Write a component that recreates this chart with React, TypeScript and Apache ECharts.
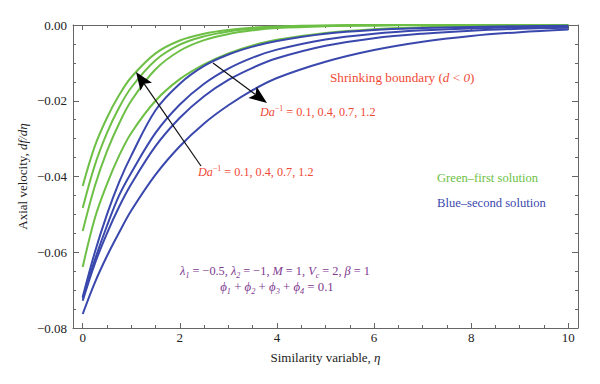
import React, { useEffect, useRef } from 'react';
import * as echarts from 'echarts';

// similarity variable eta
const eta = [0, 0.25, 0.5, 0.75, 1, 1.5, 2, 2.5, 3, 3.5, 4, 5, 6, 7, 8, 9, 10];

// first (green) solutions, Da^-1 = 1.2, 0.7, 0.4, 0.1
const green1 = [-0.0425, -0.032, -0.0245, -0.0185, -0.0138, -0.0075, -0.0041, -0.0023, -0.0013, -0.0007, -0.0004, -0.0001, 0, 0, 0, 0, 0];
const green2 = [-0.0483, -0.037, -0.0285, -0.0218, -0.0165, -0.0093, -0.0052, -0.003, -0.0017, -0.001, -0.0006, -0.0002, -0.0001, 0, 0, 0, 0];
const green3 = [-0.0544, -0.0425, -0.0333, -0.026, -0.02, -0.0117, -0.0068, -0.004, -0.0024, -0.0014, -0.0008, -0.0003, -0.0001, 0, 0, 0, 0];
const green4 = [-0.0639, -0.051, -0.042, -0.0345, -0.0285, -0.02, -0.0143, -0.0104, -0.0075, -0.0054, -0.0039, -0.0021, -0.0011, -0.0006, -0.0003, -0.0002, -0.0001];

// second (blue) solutions, Da^-1 = 0.1, 0.4, 0.7, 1.2
const blue1 = [-0.0718, -0.06, -0.05, -0.0415, -0.0345, -0.0225, -0.0155, -0.0108, -0.0078, -0.0057, -0.0042, -0.0023, -0.0013, -0.0008, -0.0005, -0.0003, -0.0002];
const blue2 = [-0.0722, -0.062, -0.053, -0.045, -0.039, -0.0285, -0.021, -0.0155, -0.0115, -0.0086, -0.0065, -0.0038, -0.0023, -0.0014, -0.0009, -0.0006, -0.0004];
const blue3 = [-0.0728, -0.063, -0.055, -0.048, -0.042, -0.032, -0.0245, -0.0188, -0.0145, -0.0113, -0.0088, -0.0055, -0.0035, -0.0023, -0.0015, -0.001, -0.0007];
const blue4 = [-0.0763, -0.068, -0.061, -0.0548, -0.049, -0.0395, -0.032, -0.026, -0.0212, -0.0172, -0.014, -0.0097, -0.0066, -0.0044, -0.0029, -0.0019, -0.0012];

const xTickLabels = [0, 2, 4, 6, 8, 10];
const yTickLabels = [0, -0.02, -0.04, -0.06, -0.08];
const xMinorTicks: number[] = [];
for (let i = 0; i <= 20; i++) xMinorTicks.push(i * 0.5);
const yMinorTicks: number[] = [];
for (let i = 0; i <= 16; i++) yMinorTicks.push(-i * 0.005);

const GREEN = '#6dbf45';
const BLUE = '#3a48ad';
const RED = '#ef4a36';
const PURPLE = '#7e3a8f';
const FONT = "'Liberation Serif', 'DejaVu Serif', serif";
const FRAME = '#666';

function arrow(tail: [number, number], tip: [number, number], headLen: number, halfW: number) {
  const dx = tip[0] - tail[0];
  const dy = tip[1] - tail[1];
  const L = Math.hypot(dx, dy);
  const ux = dx / L, uy = dy / L;
  const px = -uy, py = ux;
  const bx = tip[0] - ux * headLen, by = tip[1] - uy * headLen;
  const ix = tip[0] - ux * headLen * 0.8, iy = tip[1] - uy * headLen * 0.8;
  return [
    {
      type: 'line',
      shape: { x1: tail[0], y1: tail[1], x2: ix, y2: iy },
      style: { stroke: '#111', lineWidth: 1.2 },
      z: 100,
    },
    {
      type: 'polygon',
      shape: {
        points: [
          [tip[0], tip[1]],
          [bx + px * halfW, by + py * halfW],
          [ix, iy],
          [bx - px * halfW, by - py * halfW],
        ],
      },
      style: { fill: '#000' },
      z: 100,
    },
  ];
}

function xAxis(position: 'top' | 'bottom', ticks: number[], len: number, main: boolean) {
  return {
    type: 'value',
    min: -0.2,
    max: 10.2,
    position,
    axisLine: { show: main, onZero: false, lineStyle: { color: FRAME, width: 1 } },
    axisTick: { show: true, inside: true, length: len, customValues: ticks, lineStyle: { color: FRAME } },
    axisLabel: {
      show: main && position === 'bottom',
      customValues: xTickLabels,
      margin: 3,
      fontFamily: FONT,
      fontSize: 13,
      color: '#222',
    },
    splitLine: { show: false },
  };
}

function yAxis(position: 'left' | 'right', ticks: number[], len: number, main: boolean) {
  return {
    type: 'value',
    min: -0.08,
    max: 0,
    position,
    axisLine: { show: main, onZero: false, lineStyle: { color: FRAME, width: 1 } },
    axisTick: { show: true, inside: true, length: len, customValues: ticks, lineStyle: { color: FRAME } },
    axisLabel: {
      show: main && position === 'left',
      customValues: yTickLabels,
      margin: 6,
      fontFamily: FONT,
      fontSize: 13,
      color: '#222',
      formatter: (v: number) => (Math.abs(v) < 1e-9 ? '0.00' : '\u2212' + Math.abs(v).toFixed(2)),
    },
    splitLine: { show: false },
  };
}

export default function App() {
  const ref = useRef<HTMLDivElement>(null);
  useEffect(() => {
    if (!ref.current) return;
    const chart = echarts.init(ref.current, null, { renderer: 'svg' });
    const mk = (ys: number[], color: string, name: string) => ({
      type: 'line',
      name,
      xAxisIndex: 0,
      yAxisIndex: 0,
      data: eta.map((x, i) => [x, ys[i]]),
      showSymbol: false,
      symbol: 'none',
      smooth: 0.35,
      lineStyle: { color, width: 2 },
      z: 5,
    });
    const xMain = xAxis('bottom', xTickLabels, 5, true) as any;
    xMain.name = 'Similarity variable, {i|\u03b7}';
    xMain.nameLocation = 'middle';
    xMain.nameGap = 23;
    xMain.nameMoveOverlap = false;
    xMain.nameTextStyle = {
      fontFamily: FONT,
      fontSize: 13,
      color: '#222',
      rich: { i: { fontFamily: FONT, fontSize: 13, fontStyle: 'italic', color: '#222' } },
    };
    const yMain = yAxis('left', yTickLabels, 6, true) as any;
    yMain.name = 'Axial velocity, {i|df/d\u03b7}';
    yMain.nameLocation = 'middle';
    yMain.nameGap = 44;
    yMain.nameMoveOverlap = false;
    yMain.nameTextStyle = {
      fontFamily: FONT,
      fontSize: 13,
      color: '#222',
      rich: { i: { fontFamily: FONT, fontSize: 13, fontStyle: 'italic', color: '#222' } },
    };

    const rt = (size: number, color: string) => ({
      i: { fontFamily: FONT, fontSize: size, fontStyle: 'italic', fill: color, color },
      s: { fontFamily: FONT, fontSize: size * 0.65, fill: color, color, padding: [0, 0, 7, 0] },
      b: { fontFamily: FONT, fontSize: size * 0.65, fontStyle: 'italic', fill: color, color, padding: [8, 0, 0, 0] },
    });

    const text = (x: number, y: number, t: string, color: string, align = 'left', size = 13.2) => ({
      type: 'text',
      x,
      y,
      z: 100,
      style: {
        text: t,
        fill: color,
        font: `${size}px ${FONT}`,
        fontFamily: FONT,
        fontSize: size,
        align,
        verticalAlign: 'middle',
        rich: rt(size, color),
      },
    });

    chart.setOption({
      animation: false,
      backgroundColor: '#fff',
      grid: { left: 73, right: 22, top: 25, bottom: 56, containLabel: false },
      xAxis: [
        xMain,
        xAxis('bottom', xMinorTicks, 3, false),
        xAxis('top', xTickLabels, 5, true),
        xAxis('top', xMinorTicks, 3, false),
      ],
      yAxis: [
        yMain,
        yAxis('left', yMinorTicks, 3, false),
        yAxis('right', yTickLabels, 6, true),
        yAxis('right', yMinorTicks, 3, false),
      ],
      series: [
        mk(green1, GREEN, 'g1'),
        mk(green2, GREEN, 'g2'),
        mk(green3, GREEN, 'g3'),
        mk(green4, GREEN, 'g4'),
        mk(blue1, BLUE, 'b1'),
        mk(blue2, BLUE, 'b2'),
        mk(blue3, BLUE, 'b3'),
        mk(blue4, BLUE, 'b4'),
      ],
      graphic: [
        ...arrow([201, 166], [136, 72], 18, 7),
        ...arrow([213, 63], [267, 103], 18, 7),
        text(330, 77, 'Shrinking boundary ({i|d} < {i|0})', RED),
        text(260, 112, '{i|Da}{s|\u22121} = 0.1, 0.4, 0.7, 1.2', RED, 'left', 12.2),
        text(198, 172, '{i|Da}{s|\u22121} = 0.1, 0.4, 0.7, 1.2', RED, 'left', 12.2),
        text(437, 178, 'Green\u2013first solution', GREEN, 'left', 12.6),
        text(437, 203, 'Blue\u2013second solution', BLUE, 'left', 12.6),
        text(
          275,
          271,
          '{i|\u03bb}{b|1} = \u22120.5, {i|\u03bb}{b|2} = \u22121, {i|M} = 1, {i|V}{b|c} = 2, {i|\u03b2} = 1',
          PURPLE,
          'center',
          12.3,
        ),
        text(277, 287, '{i|\u03d5}{b|1} + {i|\u03d5}{b|2} + {i|\u03d5}{b|3} + {i|\u03d5}{b|4} = 0.1', PURPLE, 'center', 12.8),
      ],
    });
    return () => chart.dispose();
  }, []);
  return (
    <div
      ref={ref}
      style={{ position: 'fixed', left: 0, top: 0, width: 600, height: 384, background: '#fff' }}
    />
  );
}
